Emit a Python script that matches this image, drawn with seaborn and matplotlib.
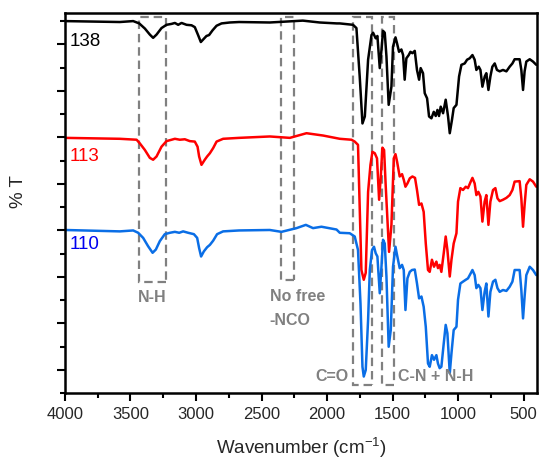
import matplotlib
matplotlib.use("Agg")
import matplotlib.pyplot as plt
from matplotlib.patches import Rectangle
from matplotlib.ticker import MultipleLocator, NullFormatter
import pandas as pd
import seaborn as sns

# ---------------- data ----------------
black_wn = [4000, 3581, 3479, 3433, 3390, 3352, 3327, 3301, 3263, 3225,
            3186, 3161, 3136, 3110, 3072, 3034, 3009, 2984, 2963, 2940,
            2920, 2900, 2874, 2843, 2805, 2742, 2671, 2437, 2185, 2056,
            1926, 1903, 1802, 1776, 1751, 1730, 1712, 1687, 1661, 1649,
            1629, 1616, 1598, 1585, 1573, 1560, 1547, 1530, 1509, 1497,
            1478, 1466, 1451, 1433, 1420, 1408, 1395, 1377, 1364, 1349,
            1331, 1314, 1298, 1286, 1268, 1255, 1237, 1222, 1204, 1186,
            1171, 1158, 1146, 1133, 1115, 1095, 1077, 1064, 1047, 1034,
            1013, 993, 975, 950, 932, 912, 891, 874, 861, 843,
            830, 815, 797, 785, 769, 754, 739, 721, 704, 683,
            658, 632, 607, 586, 569, 531, 518, 505, 493, 480,
            454, 429, 404]
black_t = [85.0, 84.8, 85.0, 84.5, 83.4, 82.1, 81.4, 82.1, 83.5, 84.2,
           84.4, 84.6, 84.2, 84.6, 84.2, 84.1, 83.7, 82.0, 80.5, 81.2,
           81.8, 82.0, 83.0, 84.0, 84.5, 84.7, 84.8, 84.7, 85.1, 84.7,
           84.5, 84.5, 84.2, 83.5, 73.1, 63.0, 64.5, 76.7, 82.0, 82.5,
           81.3, 81.8, 74.9, 78.8, 82.9, 82.5, 77.4, 67.0, 70.9, 79.5,
           81.5, 80.2, 78.4, 78.9, 77.7, 72.4, 77.0, 77.7, 78.4, 78.1,
           78.6, 74.5, 72.4, 74.9, 73.8, 69.5, 68.4, 64.5, 64.1, 65.5,
           64.6, 65.9, 64.6, 66.6, 65.2, 68.1, 64.5, 60.9, 63.8, 66.3,
           67.0, 73.1, 75.6, 75.9, 76.7, 77.0, 77.7, 76.7, 74.5, 75.2,
           74.5, 70.9, 73.1, 73.8, 70.2, 73.1, 75.2, 75.9, 74.5, 74.2,
           74.5, 74.2, 75.2, 75.9, 76.8, 76.8, 74.5, 70.2, 74.2, 76.3,
           76.8, 76.3, 75.6]

red_wn = [4000, 3581, 3453, 3428, 3390, 3352, 3327, 3301, 3263, 3225,
          3186, 3161, 3123, 3085, 3047, 3009, 2988, 2976, 2958, 2933,
          2915, 2894, 2869, 2843, 2793, 2671, 2437, 2284, 2157, 2030,
          1903, 1814, 1789, 1764, 1738, 1720, 1705, 1687, 1669, 1654,
          1636, 1619, 1603, 1591, 1578, 1565, 1553, 1527, 1509, 1491,
          1478, 1466, 1446, 1428, 1415, 1402, 1387, 1369, 1349, 1329,
          1314, 1298, 1280, 1263, 1247, 1230, 1217, 1200, 1184, 1166,
          1154, 1141, 1128, 1110, 1095, 1082, 1064, 1051, 1034, 1013,
          1001, 983, 963, 942, 925, 904, 891, 874, 861, 846,
          830, 815, 798, 785, 769, 754, 734, 716, 700, 683,
          658, 632, 607, 586, 569, 531, 518, 505, 493, 480,
          454, 429, 404]
red_t = [59.9, 59.7, 59.5, 58.7, 57.3, 55.6, 55.2, 55.9, 58.0, 59.2,
         59.5, 59.7, 59.5, 59.6, 59.2, 59.1, 58.0, 55.9, 54.1, 55.2,
         55.9, 56.6, 57.7, 59.1, 59.7, 59.9, 60.2, 59.9, 60.9, 60.4,
         59.7, 59.5, 59.1, 58.4, 31.5, 29.4, 30.9, 48.3, 54.1, 56.9,
         56.6, 55.5, 46.6, 51.2, 57.8, 57.3, 49.8, 35.4, 41.2, 55.5,
         56.4, 54.8, 51.6, 52.1, 50.9, 49.4, 50.1, 51.2, 51.6, 51.3,
         48.7, 45.5, 45.8, 44.0, 37.2, 31.5, 31.1, 33.7, 32.2, 33.3,
         31.9, 32.6, 31.1, 35.1, 38.7, 35.8, 30.1, 33.7, 37.2, 39.4,
         46.2, 49.1, 48.7, 49.4, 49.1, 50.5, 51.3, 50.1, 47.6, 48.3,
         47.3, 41.9, 46.2, 47.6, 41.2, 46.2, 48.7, 49.1, 46.9, 46.3,
         46.6, 47.0, 47.6, 48.7, 50.5, 50.6, 46.9, 40.8, 45.5, 49.8,
         51.0, 50.5, 49.4]

blue_wn = [4000, 3581, 3479, 3441, 3403, 3365, 3331, 3306, 3276, 3238,
           3199, 3161, 3128, 3098, 3060, 3016, 2991, 2976, 2961, 2940,
           2915, 2894, 2869, 2839, 2793, 2671, 2437, 2348, 2233, 2162,
           2107, 2043, 1928, 1903, 1827, 1789, 1764, 1745, 1730, 1720,
           1705, 1687, 1674, 1657, 1642, 1629, 1616, 1598, 1585, 1573,
           1560, 1547, 1530, 1514, 1497, 1478, 1466, 1446, 1428, 1415,
           1402, 1387, 1369, 1352, 1331, 1314, 1298, 1280, 1263, 1247,
           1230, 1217, 1200, 1184, 1166, 1154, 1141, 1128, 1110, 1095,
           1082, 1064, 1051, 1034, 1013, 1001, 983, 963, 942, 925,
           904, 891, 874, 861, 846, 830, 815, 798, 785, 769,
           754, 734, 716, 700, 683, 658, 632, 607, 586, 569,
           531, 518, 505, 493, 480, 454, 429, 404]
blue_t = [40.1, 39.8, 40.0, 39.5, 38.4, 36.6, 35.2, 35.9, 37.7, 39.2,
          39.5, 39.7, 39.5, 39.8, 39.5, 39.2, 38.4, 36.2, 34.4, 35.5,
          36.4, 36.9, 37.8, 39.2, 39.8, 40.0, 40.1, 39.7, 40.5, 41.2,
          40.5, 40.8, 40.2, 39.5, 39.4, 38.7, 35.8, 24.3, 10.7, 8.6,
          10.0, 20.8, 31.5, 35.8, 36.5, 35.1, 34.4, 26.5, 32.2, 38.0,
          37.2, 30.1, 15.0, 18.6, 32.2, 36.5, 34.7, 31.9, 32.6, 31.5,
          22.9, 29.7, 31.1, 31.5, 31.6, 28.6, 25.4, 25.8, 23.6, 19.3,
          11.4, 10.7, 13.2, 12.2, 13.2, 11.4, 10.4, 10.7, 15.7, 19.7,
          17.9, 9.3, 13.6, 18.6, 19.3, 25.1, 28.6, 29.0, 29.4, 29.7,
          30.8, 31.5, 30.4, 27.6, 28.3, 27.6, 22.9, 26.8, 28.6, 21.5,
          26.8, 29.0, 29.4, 27.6, 26.8, 27.2, 27.0, 27.9, 29.0, 31.5,
          31.5, 27.2, 21.1, 25.8, 30.4, 32.2, 31.5, 30.4]

series_names = ["138", "113", "110"]
series_label_t = [80.6, 55.9, 36.9]

# annotation boxes (wavenumber range and %T range)
box_wn_hi = [3433, 2348, 1802, 1578]
box_wn_lo = [3230, 2252, 1657, 1490]
box_t_lo = [29.0, 29.4, 6.8, 6.8]
box_t_hi = [85.8, 85.9, 85.9, 85.9]

x_ticks = [4000, 3500, 3000, 2500, 2000, 1500, 1000, 500]

# ---------------- styling ----------------
sns.set_style("ticks")
plt.rcParams["font.family"] = ["Liberation Sans", "DejaVu Sans"]
plt.rcParams["mathtext.fontset"] = "custom"
plt.rcParams["mathtext.rm"] = "Liberation Sans"
plt.rcParams["mathtext.default"] = "regular"

line_colors = ["#000000", "#ff0000", "#0a6ee6"]
text_colors = ["#000000", "#ff0000", "#0000f0"]
grey = "#808080"

df = pd.concat([
    pd.DataFrame({"wn": black_wn, "T": black_t, "sample": "138"}),
    pd.DataFrame({"wn": red_wn, "T": red_t, "sample": "113"}),
    pd.DataFrame({"wn": blue_wn, "T": blue_t, "sample": "110"}),
], ignore_index=True)

fig = plt.figure(figsize=(5.5, 4.71), dpi=100)
ax = fig.add_axes([0.118, 0.165, 0.858, 0.808])

sns.lineplot(data=df, x="wn", y="T", hue="sample", hue_order=series_names,
             palette=line_colors, estimator=None, sort=True, linewidth=1.8,
             legend=False, ax=ax)

ax.set_xlim(4000, 400)
ax.set_ylim(5.0, 86.8)

for i in range(len(box_wn_hi)):
    ax.add_patch(Rectangle((box_wn_lo[i], box_t_lo[i]),
                           box_wn_hi[i] - box_wn_lo[i],
                           box_t_hi[i] - box_t_lo[i],
                           fill=False, edgecolor=grey, linewidth=1.6,
                           linestyle=(0, (3.8, 2.2)), zorder=1))

for name, t, c in zip(series_names, series_label_t, text_colors):
    ax.text(3962, t, name, color=c, fontsize=13.5, ha="left", va="center")

ann = dict(color=grey, fontsize=11.5, fontweight="bold")
ax.text(3333, 25.5, "N-H", ha="center", va="center", **ann)
ax.text(2437, 25.7, "No free", ha="left", va="center", **ann)
ax.text(2437, 20.6, "-NCO", ha="left", va="center", **ann)
ax.text(1834, 8.7, "C=O", ha="right", va="center", **ann)
ax.text(1459, 8.7, "C-N + N-H", ha="left", va="center", **ann)

ax.set_xticks(x_ticks)
ax.xaxis.set_minor_locator(MultipleLocator(250))
ax.yaxis.set_major_locator(MultipleLocator(10))
ax.yaxis.set_minor_locator(MultipleLocator(5))
ax.yaxis.set_major_formatter(NullFormatter())
ax.tick_params(axis="both", which="major", direction="out", length=6,
               width=1.5, color="black", labelsize=12, pad=4)
ax.tick_params(axis="both", which="minor", direction="out", length=3.5,
               width=1.5, color="black")
ax.tick_params(top=False, right=False, which="both")

for s in ax.spines.values():
    s.set_linewidth(1.8)
    s.set_color("black")
    s.set_visible(True)

ax.set_xlabel("Wavenumber (cm$^{-1}$)", fontsize=13.5)
ax.set_ylabel("% T", fontsize=13.5)
ax.xaxis.set_label_coords(0.5, -0.112)
ax.yaxis.set_label_coords(-0.08, 0.53)

fig.savefig("out.png", dpi=100)
